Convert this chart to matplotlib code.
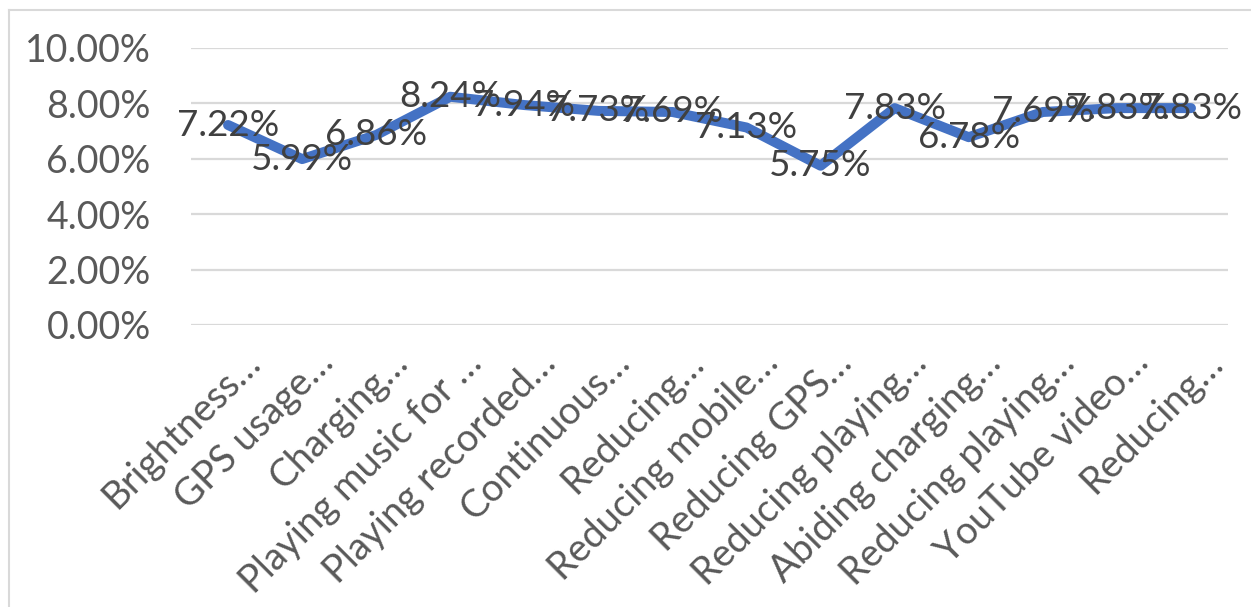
import matplotlib
matplotlib.use("Agg")
import matplotlib.pyplot as plt
import matplotlib.transforms as mtransforms
from matplotlib.lines import Line2D

# Share of battery-saving practices (%)
categories = [
    "Brightness…", "GPS usage…", "Charging…", "Playing music for …",
    "Playing recorded…", "Continuous…", "Reducing…", "Reducing mobile…",
    "Reducing GPS…", "Reducing playing…", "Abiding charging…",
    "Reducing playing…", "YouTube video…", "Reducing…",
]
values = [7.22, 5.99, 6.86, 8.24, 7.94, 7.73, 7.69, 7.13, 5.75, 7.83, 6.78, 7.69, 7.83, 7.83]
y_ticks = [0, 2, 4, 6, 8, 10]

TEXT = "#595959"
LABEL = "#404040"
GRID = "#d9d9d9"
LINE = "#4472C4"

plt.rcParams["font.family"] = ["Lato", "DejaVu Sans"]

fig = plt.figure(figsize=(12.51, 6.07), dpi=100)
ax = fig.add_axes([191 / 1251, 1 - 325 / 607, (1228 - 191) / 1251, (325 - 48) / 607])

x = list(range(len(categories)))
ax.plot(x, values, color=LINE, lw=7.2, solid_capstyle="round", solid_joinstyle="round", zorder=3)

# data labels centred on the points, drawn over the line
for xi, v in zip(x, values):
    ax.text(xi, v, f"{v:.2f}%", ha="center", va="center", fontsize=26.5, color=LABEL, zorder=4)

ax.set_xlim(-0.5, len(categories) - 0.5)
ax.set_ylim(0, 10)
ax.set_yticks(y_ticks)
ax.set_yticklabels([f"{t:.2f}%" for t in y_ticks], fontsize=27, color=TEXT)
ax.grid(axis="y", color=GRID, lw=1.6, zorder=0)
ax.set_axisbelow(True)

ax.tick_params(axis="both", length=0)
ax.tick_params(axis="x", pad=0)
ax.tick_params(axis="y", pad=29)
for s in ax.spines.values():
    s.set_visible(False)

ax.set_xticks(x)
ax.set_xticklabels(categories, rotation=45, rotation_mode="anchor", ha="right", va="center",
                   fontsize=27.5, color=TEXT)
# shift rotated labels so their ends sit just right of / below each tick
offset = mtransforms.ScaledTranslation(26 / 100, -32 / 100, fig.dpi_scale_trans)
for lab in ax.get_xticklabels():
    lab.set_transform(lab.get_transform() + offset)

# chart area border (left and top edges visible)
fig.add_artist(Line2D([9 / 1251, 9 / 1251], [0, 1 - 10 / 607], color=GRID, lw=1.5, transform=fig.transFigure))
fig.add_artist(Line2D([9 / 1251, 1], [1 - 10 / 607, 1 - 10 / 607], color=GRID, lw=1.5, transform=fig.transFigure))

fig.savefig("out.png", dpi=100, facecolor="white")
